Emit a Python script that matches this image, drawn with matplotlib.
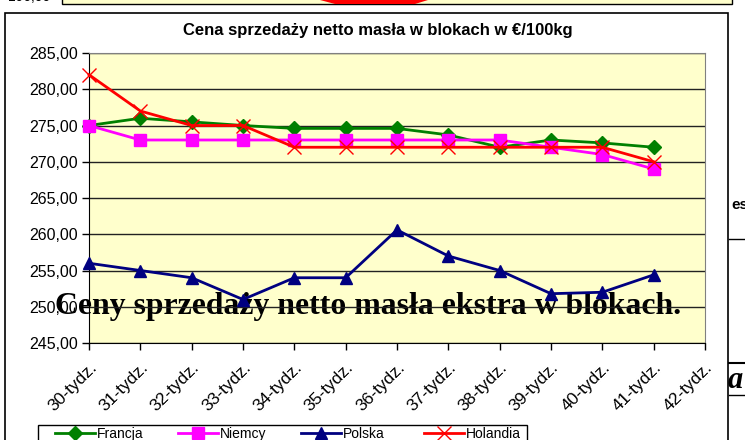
import matplotlib
matplotlib.use('Agg')
import matplotlib.pyplot as plt
import matplotlib.patches as patches
from matplotlib.ticker import FuncFormatter

plt.rcParams['font.family'] = ['Liberation Sans', 'DejaVu Sans']

# --- data ---
weeks = ['30-tydz.', '31-tydz.', '32-tydz.', '33-tydz.', '34-tydz.', '35-tydz.', '36-tydz.',
         '37-tydz.', '38-tydz.', '39-tydz.', '40-tydz.', '41-tydz.', '42-tydz.']
francja = [275.0, 276.0, 275.5, 275.0, 274.6, 274.6, 274.6, 273.7, 272.0, 273.0, 272.6, 272.0]
niemcy = [275.0, 273.0, 273.0, 273.0, 273.0, 273.0, 273.0, 273.0, 273.0, 272.0, 271.0, 269.0]
polska = [256.0, 255.0, 254.0, 251.0, 254.0, 254.0, 260.6, 257.0, 255.0, 251.8, 252.0, 254.4]
holandia = [282.0, 277.0, 275.0, 275.0, 272.0, 272.0, 272.0, 272.0, 272.0, 272.0, 272.0, 270.0]
y_ticks = [245, 250, 255, 260, 265, 270, 275, 280, 285]

W, H = 745, 440
fig = plt.figure(figsize=(W / 100, H / 100), dpi=100)

def fx(px):
    return px / W

def fy(py):
    return 1 - py / H

# background pieces from the neighbouring page content
fig.patches.append(patches.Rectangle((fx(62), fy(4)), fx(670), fy(-10) - fy(4), transform=fig.transFigure,
                                     fc='#FFFFCC', ec='black', lw=1, zorder=-2))
fig.patches.append(patches.Polygon([(fx(320), fy(0)), (fx(428), fy(0)), (fx(415), fy(4)), (fx(335), fy(4))],
                                   closed=True, transform=fig.transFigure, fc='red', ec='none', zorder=-2))
fig.text(fx(8), fy(4), '196,00', fontsize=10, ha='left', va='bottom', zorder=-2)
fig.text(fx(731), fy(205), 'es', fontsize=11, weight='bold', ha='left', va='center')
fig.lines.append(plt.Line2D([fx(729), fx(745)], [fy(239), fy(239)], transform=fig.transFigure, color='black', lw=1))
fig.lines.append(plt.Line2D([fx(729), fx(745)], [fy(363), fy(363)], transform=fig.transFigure, color='black', lw=1.5))
fig.lines.append(plt.Line2D([fx(729), fx(745)], [fy(395), fy(395)], transform=fig.transFigure, color='black', lw=1))
fig.text(fx(728), fy(380), 'a', fontsize=22, family='Liberation Serif', style='italic', weight='bold',
         ha='left', va='center')

# chart frame
fig.patches.append(patches.Rectangle((fx(5), fy(445)), fx(723), fy(13) - fy(445), transform=fig.transFigure,
                                     fc='white', ec='black', lw=1.2, zorder=-1))

ax = fig.add_axes([fx(89), fy(343), fx(616), fy(53) - fy(343)])
ax.set_facecolor('#FFFFCC')
ax.set_xlim(0, len(weeks) - 1)
ax.set_ylim(245, 285)
ax.set_yticks(y_ticks)
ax.yaxis.set_major_formatter(FuncFormatter(lambda v, p: f'{v:.2f}'.replace('.', ',')))
ax.set_xticks(range(len(weeks)))
ax.set_xticklabels(weeks, rotation=45, ha='right', va='top', rotation_mode='anchor')
ax.tick_params(axis='both', direction='out', length=5, width=1, colors='black')
ax.tick_params(axis='x', pad=7, labelsize=12.5)
ax.tick_params(axis='y', pad=3, labelsize=11.5)
ax.grid(axis='y', color='#222222', lw=1)
ax.set_axisbelow('line')
for s in ['top', 'right']:
    ax.spines[s].set_color('#808080')
for s in ['left', 'bottom']:
    ax.spines[s].set_color('black')

x = range(len(francja))
lines = []
lines += ax.plot(x, francja, color='#008000', lw=2, marker='D', ms=7, label='Francja', clip_on=False, zorder=3)
lines += ax.plot(x, niemcy, color='#FF00FF', lw=2, marker='s', ms=8, label='Niemcy', clip_on=False, zorder=3)
lines += ax.plot(x, polska, color='#000080', lw=2, marker='^', ms=9, label='Polska', clip_on=False, zorder=3)
lines += ax.plot(x, holandia, color='#FF0000', lw=2, marker='x', ms=10, mew=1, label='Holandia', clip_on=False, zorder=3)

fig.text(fx(378), fy(30), 'Cena sprzedaży netto masła w blokach w €/100kg',
         fontsize=12, weight='bold', ha='center', va='center')

# overlapping heading from the document
ax.text(-0.66, 249.0, 'Ceny sprzedaży netto masła ekstra w blokach.', family='Liberation Serif',
        weight='bold', fontsize=22.9, ha='left', va='baseline', clip_on=False, zorder=1)

# legend frame drawn separately, entries evenly spaced inside it
fig.patches.append(patches.Rectangle((fx(38), fy(450)), fx(489), fy(425) - fy(450), transform=fig.transFigure,
                                     fc='white', ec='black', lw=1, zorder=1))
for i, ln in enumerate(lines):
    leg = fig.legend(handles=[ln], loc='upper left', bbox_to_anchor=(fx(55 + 123 * i), fy(427)),
                     frameon=False, fontsize=10, handlelength=2.9, borderaxespad=0,
                     handletextpad=0.15, borderpad=0)
    leg.set_zorder(2)

fig.savefig('out.png', dpi=100)
